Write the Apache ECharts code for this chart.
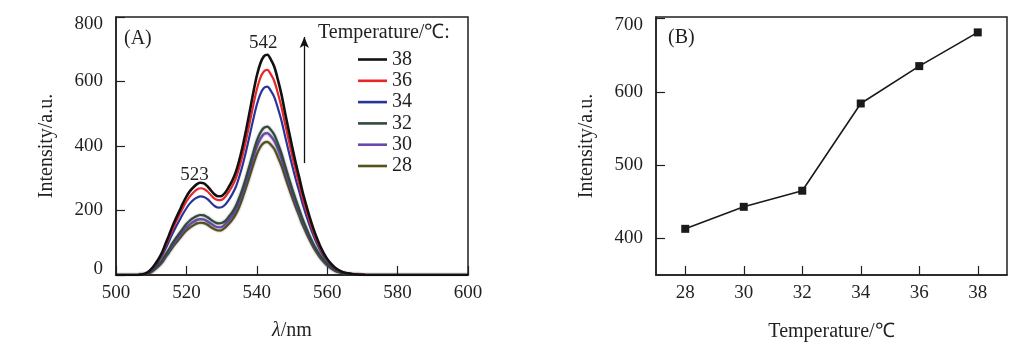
<!DOCTYPE html>
<html>
<head>
<meta charset="utf-8">
<script src="https://cdn.jsdelivr.net/npm/echarts@6/dist/echarts.min.js"></script>
<style>
html,body{margin:0;padding:0;background:#fff;}
#chart{width:1023px;height:349px;}
</style>
</head>
<body>
<div id="chart"></div>
<script>
// ---------- Panel A: emission spectra ----------
const wavelengths = [500, 503, 506, 507, 508, 509, 510, 511, 512, 513, 514, 515, 516, 517, 518, 519, 520,
  521, 522, 523, 524, 525, 526, 527, 528, 529, 530, 531, 532, 533, 534, 535, 536, 537, 538, 539, 540,
  541, 542, 543, 544, 545, 546, 547, 548, 549, 550, 551, 552, 553, 554, 555, 556, 557, 558, 559, 560,
  561, 562, 563, 564, 565, 566, 567, 568, 569, 570, 571, 572, 580, 590, 600];

const temps = ['38', '36', '34', '32', '30', '28'];

const spec38 = [0, 0, 0, 1, 3, 8, 18, 32, 48, 68, 95, 122, 150, 175, 198, 222, 243,
  260, 272, 282, 286, 284, 275, 262, 250, 244, 245, 255, 272, 292, 318, 355, 400, 452, 508, 565, 618,
  656, 678, 683, 668, 645, 605, 560, 505, 452, 400, 350, 305, 258, 218, 180, 146, 116, 90, 68, 50,
  36, 25, 17, 11, 7, 5, 3, 2, 1, 1, 0, 0, 0, 0, 0];
const spec36 = [0, 0, 0, 1, 3, 7, 17, 30, 45, 64, 89, 114, 140, 164, 186, 208, 228,
  244, 256, 265, 269, 267, 259, 247, 237, 232, 233, 242, 257, 275, 298, 332, 373, 421, 473, 526, 575,
  611, 631, 636, 622, 600, 563, 521, 470, 421, 372, 326, 284, 240, 203, 168, 136, 108, 84, 63, 47,
  34, 23, 16, 10, 7, 5, 3, 2, 1, 1, 0, 0, 0, 0, 0];
const spec34 = [0, 0, 0, 1, 2, 6, 15, 27, 41, 58, 80, 103, 127, 149, 169, 189, 207,
  222, 233, 240, 244, 242, 235, 224, 214, 209, 210, 218, 232, 250, 272, 304, 342, 386, 434, 483, 528,
  561, 580, 584, 571, 551, 517, 479, 432, 386, 342, 299, 261, 221, 186, 154, 125, 99, 77, 58, 43,
  31, 21, 15, 9, 6, 4, 3, 2, 1, 1, 0, 0, 0, 0, 0];
const spec32 = [0, 0, 0, 1, 2, 5, 11, 20, 31, 44, 62, 79, 98, 114, 129, 144, 158,
  169, 177, 183, 186, 185, 179, 171, 164, 160, 161, 167, 180, 194, 213, 239, 269, 304, 342, 380, 416,
  441, 456, 460, 450, 434, 407, 377, 340, 304, 269, 236, 205, 174, 147, 121, 98, 78, 61, 46, 34,
  24, 17, 11, 7, 5, 3, 2, 1, 1, 0, 0, 0, 0, 0, 0];
const spec30 = [0, 0, 0, 1, 2, 5, 10, 19, 29, 41, 57, 74, 91, 106, 120, 134, 147,
  157, 165, 171, 173, 172, 166, 159, 152, 148, 149, 157, 169, 183, 202, 227, 258, 291, 327, 364, 398,
  422, 437, 440, 430, 415, 390, 361, 325, 291, 258, 225, 196, 166, 140, 116, 94, 75, 58, 44, 32,
  23, 16, 11, 7, 5, 3, 2, 1, 1, 0, 0, 0, 0, 0, 0];
const spec28 = [0, 0, 0, 1, 2, 4, 9, 17, 27, 38, 54, 69, 85, 99, 112, 126, 138,
  147, 154, 160, 162, 161, 156, 148, 142, 138, 139, 147, 158, 171, 188, 211, 240, 273, 307, 342, 374,
  397, 410, 413, 404, 390, 366, 339, 306, 273, 242, 212, 185, 156, 132, 109, 88, 70, 54, 41, 30,
  22, 15, 10, 7, 4, 3, 2, 1, 1, 0, 0, 0, 0, 0, 0];

const specColors = ['#111111', '#e8262a', '#28349a', '#2f4b3c', '#6a48b0', '#55521f'];
const specWidths = [2.6, 2.2, 2.2, 2.2, 2.2, 2.2];

// ---------- Panel B: peak intensity vs temperature ----------
const tempValues = [28, 30, 32, 34, 36, 38];
const peakIntensity = [413, 443, 465, 584, 635, 681];

const xTicksA = [500, 520, 540, 560, 580, 600];
const yTicksA = [0, 200, 400, 600, 800];
const xTicksB = [28, 30, 32, 34, 36, 38];
const yTicksB = [400, 500, 600, 700];

const FONT = "'Liberation Serif', 'Times New Roman', serif";
const TXT = '#231f20';

const allSpec = [spec38, spec36, spec34, spec32, spec30, spec28];

const chart = echarts.init(document.getElementById('chart'), null, {renderer: 'canvas'});

const seriesA = temps.map((t, i) => {
  const s = {
    name: t,
    type: 'line',
    xAxisIndex: 0,
    yAxisIndex: 0,
    data: wavelengths.map((w, k) => [w, allSpec[i][k]]),
    symbol: 'none',
    smooth: 0.3,
    lineStyle: {color: specColors[i], width: specWidths[i]},
    itemStyle: {color: specColors[i]},
    z: 10 - i,
    animation: false
  };
  if (i >= 3) {
    s.lineStyle.shadowColor = 'rgba(40,40,40,0.55)';
    s.lineStyle.shadowBlur = 2;
  }
  if (i === 0) {
    s.markPoint = {
      symbol: 'circle', symbolSize: 0,
      label: {show: true, position: 'inside', color: TXT, fontFamily: FONT, fontSize: 19,
        formatter: p => p.name},
      data: [
        {name: '542', coord: [541.8, 719]},
        {name: '523', coord: [522.3, 310]}
      ]
    };
    s.markLine = {
      silent: true,
      symbol: ['none', 'arrow'],
      symbolSize: [7, 11],
      label: {show: false},
      lineStyle: {color: '#111', width: 1.3, type: 'solid'},
      data: [[{coord: [553.5, 347]}, {coord: [553.5, 738]}]]
    };
  }
  return s;
});

const axisLabelStyle = {color: TXT, fontFamily: FONT, fontSize: 19};
const nameStyle = {color: TXT, fontFamily: FONT, fontSize: 20};
const edgeRich = {
  lo: {color: TXT, fontFamily: FONT, fontSize: 19, padding: [0, 0, 12, 0]},
  hi: {color: TXT, fontFamily: FONT, fontSize: 19, padding: [14, 0, 0, 0]}
};

const option = {
  animation: false,
  backgroundColor: '#ffffff',
  grid: [
    {left: 116, top: 17, width: 352, height: 258, show: true, borderColor: '#231f20', borderWidth: 1.5, backgroundColor: 'transparent'},
    {left: 656, top: 17, width: 351, height: 258, show: true, borderColor: '#231f20', borderWidth: 1.5, backgroundColor: 'transparent'}
  ],
  legend: {
    data: temps,
    orient: 'vertical',
    left: 358,
    top: 49,
    padding: 0,
    icon: 'rect',
    itemWidth: 29,
    itemHeight: 2.6,
    itemGap: 0.3,
    textStyle: {color: TXT, fontFamily: FONT, fontSize: 20, lineHeight: 21},
    selectedMode: false
  },
  graphic: [
    {type: 'text', left: 318, top: 23, style: {text: 'Temperature/℃:', fill: TXT, font: "20px 'Liberation Serif', serif"}},
    {type: 'text', left: 124, top: 29, style: {text: '(A)', fill: TXT, font: "20px 'Liberation Serif', serif"}},
    {type: 'text', left: 668, top: 28, style: {text: '(B)', fill: TXT, font: "20px 'Liberation Serif', serif"}}
  ],
  xAxis: [
    {
      gridIndex: 0, type: 'value', min: 500, max: 600, interval: 20,
      name: '{i|λ}/nm', nameLocation: 'middle', nameGap: 46,
      nameTextStyle: Object.assign({}, nameStyle, {rich: {i: {fontStyle: 'italic', fontFamily: FONT, fontSize: 20, color: TXT}}}),
      axisLine: {show: true, lineStyle: {color: '#231f20', width: 1.5}},
      axisTick: {show: true, inside: true, length: 9, lineStyle: {color: '#231f20', width: 1.2}, customValues: xTicksA},
      axisLabel: Object.assign({margin: 9, customValues: xTicksA}, axisLabelStyle),
      splitLine: {show: false}
    },
    {
      gridIndex: 1, type: 'value', min: 27, max: 39,
      name: 'Temperature/℃', nameLocation: 'middle', nameGap: 47, nameTextStyle: nameStyle,
      axisLine: {show: true, lineStyle: {color: '#231f20', width: 1.5}},
      axisTick: {show: true, inside: true, length: 9, lineStyle: {color: '#231f20', width: 1.2}, customValues: xTicksB},
      axisLabel: Object.assign({margin: 9, customValues: xTicksB}, axisLabelStyle),
      splitLine: {show: false}
    }
  ],
  yAxis: [
    {
      gridIndex: 0, type: 'value', min: 0, max: 800, interval: 200,
      name: 'Intensity/a.u.', nameLocation: 'middle', nameGap: 59, nameTextStyle: nameStyle,
      axisLine: {show: true, lineStyle: {color: '#231f20', width: 1.5}},
      axisTick: {show: true, inside: true, length: 9, lineStyle: {color: '#231f20', width: 1.2}, customValues: yTicksA},
      axisLabel: Object.assign({margin: 13, customValues: yTicksA, rich: edgeRich,
        formatter: v => v === 0 ? '{lo|0}' : (v === 800 ? '{hi|800}' : String(v))}, axisLabelStyle),
      splitLine: {show: false}
    },
    {
      gridIndex: 1, type: 'value', min: 350, max: 702,
      name: 'Intensity/a.u.', nameLocation: 'middle', nameGap: 59, nameTextStyle: nameStyle,
      axisLine: {show: true, lineStyle: {color: '#231f20', width: 1.5}},
      axisTick: {show: true, inside: true, length: 9, lineStyle: {color: '#231f20', width: 1.2}, customValues: yTicksB},
      axisLabel: Object.assign({margin: 13, lineHeight: 14, customValues: yTicksB, verticalAlignMaxLabel: 'top'}, axisLabelStyle),
      splitLine: {show: false}
    }
  ],
  series: seriesA.concat([
    {
      name: 'peak',
      type: 'line',
      xAxisIndex: 1,
      yAxisIndex: 1,
      data: tempValues.map((t, k) => [t, peakIntensity[k]]),
      symbol: 'rect',
      symbolSize: 8,
      lineStyle: {color: '#1a1a1a', width: 1.6},
      itemStyle: {color: '#1a1a1a'},
      animation: false
    }
  ])
};

chart.setOption(option);
</script>
</body>
</html>
